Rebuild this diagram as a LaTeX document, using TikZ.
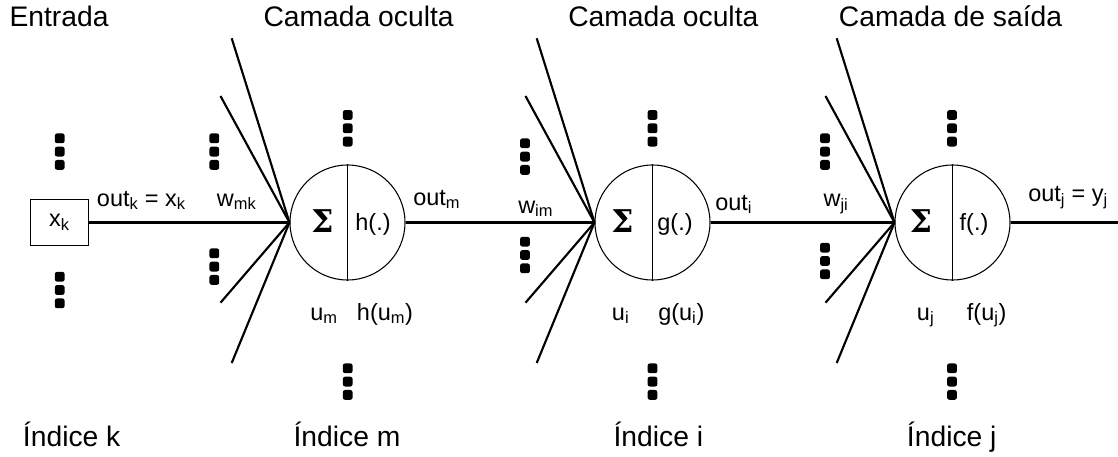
\documentclass[tikz,border=0pt]{standalone}
\usepackage{fontspec}
\setmainfont{Liberation Sans}
\newfontfamily\sigmafont{DejaVu Serif}
\begin{document}
\begin{tikzpicture}[x=0.75pt,y=-0.75pt,
  conn/.style={line width=1.6pt},
  neuron/.style={circle,draw,line width=0.8pt,minimum size=86.25pt,inner sep=0pt},
  inbox/.style={rectangle,draw,line width=0.8pt,minimum width=43.2pt,minimum height=34.8pt,inner sep=0pt,font=\fontsize{17.6}{21}\selectfont},
  head/.style={anchor=base west,inner sep=0pt,font=\fontsize{21.2}{25}\selectfont},
  lbl/.style={anchor=base west,inner sep=0pt,font=\fontsize{17.6}{21}\selectfont},
  fn/.style={inner sep=0pt,font=\fontsize{17.6}{21}\selectfont},
  sig/.style={inner sep=0pt,font=\fontsize{23.5}{28}\sigmafont\bfseries},
  dotsq/.style={rectangle,fill=black,rounded corners=1.8pt,minimum size=7.4pt,inner sep=0pt},
  vdts/.pic={\foreach \k in {0,1,2} \node[dotsq] at (0,\k*13.3) {};}
]
\useasboundingbox (0,0) rectangle (1118,457);

% headers
\node[head] (hin) at (9.3,26) {Entrada};
\node[head] (hh1) at (263.3,26) {Camada oculta};
\node[head] (hh2) at (568,26) {Camada oculta};
\node[head] (hout) at (838.7,26) {Camada de saída};

% bottom labels
\node[head] (ik) at (22.7,446.7) {Índice k};
\node[head] (im) at (293.3,446.7) {Índice m};
\node[head] (ii) at (613.3,446.7) {Índice i};
\node[head] (ij) at (906.7,446.7) {Índice j};

% input box
\node[inbox] (xk) at (59.5,222.5) {x\textsubscript{k}};

% neurons
\node[neuron] (n1) at (347.5,222.5) {};
\node[neuron] (n2) at (652.5,222.5) {};
\node[neuron] (n3) at (952.5,222.5) {};
\foreach \n in {n1,n2,n3} \draw[line width=0.8pt] (\n.north) -- (\n.south);

\node[sig] (s1) at (322.5,221.5) {Σ};
\node[sig] (s2) at (622.5,221.5) {Σ};
\node[sig] (s3) at (921,221.5) {Σ};
\node[fn] (h1) at (373,224) {h(.)};
\node[fn] (g2) at (675,224) {g(.)};
\node[fn] (f3) at (974,224) {f(.)};

% connectors
\draw[conn] (xk.east) -- (n1.west);
\draw[conn] (n1.east) -- (n2.west);
\draw[conn] (n2.east) -- (n3.west);
\coordinate (oend) at (1118,222.5);
\draw[conn] (n3.east) -- (oend);

% fan-in lines
\foreach \n/\cx in {n1/290,n2/595,n3/895}{
  \coordinate (\n a) at ({\cx-58.3},38.3);
  \coordinate (\n b) at ({\cx-69.5},96);
  \coordinate (\n c) at ({\cx-69.5},302.7);
  \coordinate (\n d) at ({\cx-58.3},363);
  \foreach \e in {a,b,c,d} \draw[conn] (\n\e) -- (\n.west);
}

% labels
\node[lbl] (loutk) at (96.7,206) {out\textsubscript{k} = x\textsubscript{k}};
\node[lbl] (lwmk) at (216.7,206) {w\textsubscript{mk}};
\node[lbl] (loutm) at (413,205) {out\textsubscript{m}};
\node[lbl] (lum) at (310,320) {u\textsubscript{m}};
\node[lbl] (lhum) at (356.7,320) {h(u\textsubscript{m})};
\node[lbl] (lwim) at (518,213) {w\textsubscript{im}};
\node[lbl] (louti) at (715,210) {out\textsubscript{i}};
\node[lbl] (lui) at (611.7,320) {u\textsubscript{i}};
\node[lbl] (lgui) at (658,320) {g(u\textsubscript{i})};
\node[lbl] (lwji) at (823.3,206.7) {w\textsubscript{ji}};
\node[lbl] (loutj) at (1028,201.7) {out\textsubscript{j} = y\textsubscript{j}};
\node[lbl] (luj) at (916.7,320) {u\textsubscript{j}};
\node[lbl] (lfuj) at (966.7,320) {f(u\textsubscript{j})};

% vertical ellipsis dots (center of top square)
\pic at (59.7,138.3) {vdts};
\pic at (59.7,276.7) {vdts};
\pic at (214.3,138.3) {vdts};
\pic at (214.3,253.3) {vdts};
\pic at (347.7,115) {vdts};
\pic at (347.7,368.3) {vdts};
\pic at (525,143.3) {vdts};
\pic at (525,241.7) {vdts};
\pic at (652.5,115) {vdts};
\pic at (652.5,368.3) {vdts};
\pic at (825,138.3) {vdts};
\pic at (825,247.7) {vdts};
\pic at (952,115) {vdts};
\pic at (952,368.3) {vdts};
\end{tikzpicture}
\end{document}
